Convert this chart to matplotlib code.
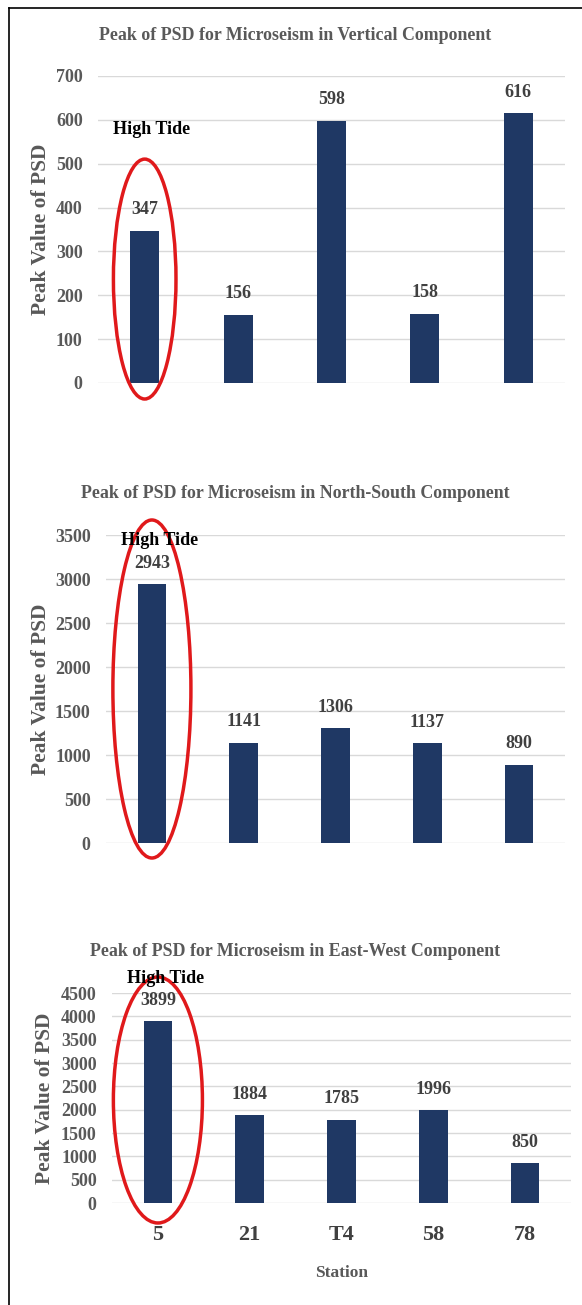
import matplotlib.pyplot as plt
from matplotlib.patches import Ellipse
from matplotlib.lines import Line2D

plt.rcParams['font.family'] = ['Liberation Serif', 'DejaVu Serif']
plt.rcParams['font.weight'] = 'bold'

stations = ['5', '21', 'T4', '58', '78']
vertical = [347, 156, 598, 158, 616]
north_south = [2943, 1141, 1306, 1137, 890]
east_west = [3899, 1884, 1785, 1996, 850]

titles = ['Peak of PSD for Microseism in Vertical Component',
          'Peak of PSD for Microseism in North-South Component',
          'Peak of PSD for Microseism in East-West Component']

bar_color = '#1f3864'
gray = '#595959'

W, H = 582, 1305
fig = plt.figure(figsize=(W / 100, H / 100), dpi=100)

# panel boxes in pixels: left, right, y of top tick, y of zero
boxes = [(98, 565, 76, 383), (106, 565, 535, 843), (112, 571, 993, 1203)]
ylabel_x = [41, 41, 45]
ymax = [700, 3500, 4500]
ystep = [100, 500, 500]
series = [vertical, north_south, east_west]
# ellipse (center y, width, height) in data units, and "High Tide" position
ellipses = [(237, 0.67, 547), (1750, 0.85, 3841), (2207, 0.97, 5271)]
tide_y = [577, 3443, 4821]

for i in range(3):
    l, r, t, b = boxes[i]
    ax = fig.add_axes([l / W, 1 - b / H, (r - l) / W, (b - t) / H])
    x = list(range(len(stations)))
    ax.bar(x, series[i], width=0.31, color=bar_color, zorder=2)
    ax.set_xlim(-0.5, 4.5)
    ax.set_ylim(0, ymax[i])
    ax.set_yticks(range(0, ymax[i] + 1, ystep[i]))
    ax.grid(axis='y', color='#d9d9d9', linewidth=1, zorder=0)
    for s in ax.spines.values():
        s.set_visible(False)
    ax.tick_params(axis='y', length=0, pad=11, labelsize=13, labelcolor=gray)
    ax.tick_params(axis='x', length=0)
    if i < 2:
        ax.set_xticks([])
    else:
        ax.set_xticks(x)
        ax.set_xticklabels(stations)
        ax.tick_params(axis='x', labelsize=16, labelcolor='#404040', pad=16)
        ax.set_xlabel('Station', fontsize=12.5, color=gray, fontweight='bold',
                      labelpad=14)
    for xi, v in zip(x, series[i]):
        ax.annotate(str(v), (xi, v), xytext=(0, 15), textcoords='offset points',
                    ha='center', va='center', fontsize=13, color='#404040')
    cy, ew, eh = ellipses[i]
    ax.add_patch(Ellipse((0, cy), ew, eh, fill=False, edgecolor='#e0191b',
                         linewidth=2.5, clip_on=False, zorder=3))
    ax.text(-0.34, tide_y[i], 'High Tide', fontsize=13, color='black',
            ha='left', va='center', zorder=4)
    fig.text(295 / W, 1 - (t - 41) / H, titles[i], ha='center', va='center',
             fontsize=12.9, color=gray)
    fig.text(ylabel_x[i] / W, 1 - ((t + b) / 2) / H, 'Peak Value of PSD',
             rotation=90, ha='center', va='center', fontsize=15.5, color=gray)

# frame lines on top and left
fig.add_artist(Line2D([9 / W, 9 / W], [0, 1 - 8 / H], color='black', linewidth=1.2))
fig.add_artist(Line2D([9 / W, 1], [1 - 8 / H, 1 - 8 / H], color='black', linewidth=1.2))

fig.savefig('out.png', dpi=100)
